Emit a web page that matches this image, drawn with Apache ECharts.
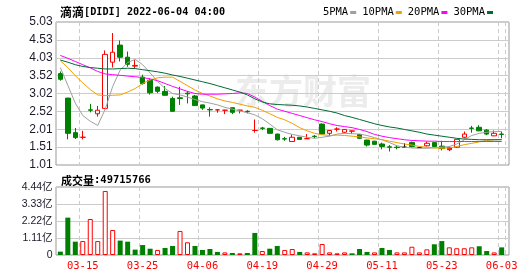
<!DOCTYPE html>
<html><head><meta charset="utf-8">
<script src="https://cdn.jsdelivr.net/npm/echarts@6/dist/echarts.min.js"></script>
<style>html,body{margin:0;padding:0;background:#fff}#c{width:530px;height:276px}</style>
</head><body><div id="c"></div>
<script>
const dates = ['03-10','03-11','03-14','03-15','03-16','03-17','03-18','03-21','03-22','03-23','03-24','03-25',
'03-28','03-29','03-30','03-31','04-01','04-04','04-05','04-06','04-07','04-08','04-11','04-12','04-13','04-14',
'04-18','04-19','04-20','04-21','04-22','04-25','04-26','04-27','04-28','04-29','05-02','05-03','05-04','05-05',
'05-06','05-09','05-10','05-11','05-12','05-13','05-16','05-17','05-18','05-19','05-20','05-23','05-24','05-25',
'05-26','05-27','05-31','06-01','06-02','06-03'];
const labelDates = ['03-15','03-25','04-06','04-19','04-29','05-11','05-23','06-03'];
const opens  = [3.58,2.89,1.92,1.79,2.56,2.45,2.60,3.90,4.38,4.04,3.79,3.48,3.39,3.20,3.08,2.88,2.90,3.03,2.95,2.70,
2.57,2.56,2.55,2.62,2.55,2.52,1.98,2.05,2.04,1.88,1.75,1.67,1.79,1.75,1.82,2.16,1.90,2.02,1.93,1.96,
1.87,1.71,1.68,1.60,1.52,1.51,1.51,1.64,1.50,1.55,1.64,1.54,1.50,1.51,1.79,2.05,2.07,1.99,1.83,1.88];
const closes = [3.42,1.90,1.78,1.79,2.55,2.55,4.12,4.18,4.04,3.84,3.81,3.30,3.04,3.08,2.97,2.52,2.88,3.01,2.68,2.61,
2.56,2.56,2.55,2.49,2.55,2.51,1.98,2.04,1.90,1.72,1.74,1.79,1.73,1.75,1.81,1.88,1.98,2.02,2.01,1.97,
1.76,1.57,1.59,1.53,1.51,1.50,1.51,1.53,1.50,1.62,1.53,1.47,1.44,1.73,1.88,2.04,1.97,1.88,1.90,1.87];
const lows   = [3.38,1.73,1.74,1.73,2.49,2.37,2.58,3.75,3.92,3.77,3.73,3.27,2.99,3.03,2.96,2.51,2.70,2.74,2.67,2.56,
2.37,2.48,2.44,2.44,2.46,2.46,1.92,1.99,1.89,1.70,1.69,1.66,1.72,1.75,1.76,1.87,1.82,1.95,1.90,1.88,
1.75,1.53,1.58,1.45,1.39,1.45,1.50,1.50,1.49,1.53,1.52,1.42,1.40,1.49,1.76,1.92,1.96,1.85,1.82,1.76];
const highs  = [3.64,2.90,2.05,1.97,2.73,2.67,4.23,4.72,4.51,4.20,3.96,3.55,3.45,3.22,3.23,2.93,3.21,3.09,2.98,2.71,
2.63,2.57,2.56,2.63,2.56,2.55,2.29,2.08,2.05,1.89,1.80,1.87,1.80,1.88,1.85,2.18,1.99,2.07,2.02,1.98,
1.88,1.72,1.69,1.64,1.57,1.57,1.62,1.67,1.51,1.67,1.65,1.69,1.53,1.73,1.95,2.11,2.13,2.02,1.98,1.95];
// candle tone: 1 = red, -1 = green, 0 = black
const candleTone = [-1,-1,-1,1,-1,1,1,1,-1,-1,1,-1,-1,-1,-1,-1,-1,-1,-1,-1,
-1,1,1,-1,1,-1,1,-1,-1,-1,-1,1,-1,1,-1,-1,1,1,1,1,
-1,-1,-1,-1,-1,-1,0,-1,0,1,-1,-1,1,1,1,-1,-1,-1,1,-1];
const volumes = [22e6,244e6,87e6,91e6,235e6,91e6,418e6,163e6,94e6,87e6,35e6,65e6,41e6,33e6,46e6,59e6,157e6,83e6,59e6,33e6,
39e6,20e6,17e6,13e6,11e6,13e6,144e6,26e6,41e6,59e6,33e6,39e6,20e6,17e6,11e6,72e6,17e6,11e6,17e6,11e6,
39e6,20e6,17e6,46e6,33e6,17e6,17e6,54e6,17e6,37e6,70e6,91e6,50e6,44e6,44e6,50e6,57e6,26e6,17e6,49715766];
const volumeUp = [0,0,0,1,1,1,1,1,0,0,0,0,0,1,0,0,1,1,0,0,
0,0,1,0,1,0,0,1,0,0,1,1,0,1,1,1,1,1,1,0,
0,0,1,0,0,1,1,1,1,1,0,0,1,1,1,1,0,0,1,0];
const ma5  = [3.75,3.25,2.75,2.40,2.24,2.12,2.58,3.22,3.68,3.89,3.98,3.83,3.60,3.36,3.16,3.02,2.98,2.92,2.85,2.79,
2.75,2.70,2.63,2.58,2.53,2.48,2.42,2.31,2.16,2.00,1.93,1.87,1.83,1.79,1.76,1.79,1.82,1.88,1.90,1.89,
1.88,1.84,1.78,1.72,1.64,1.55,1.51,1.49,1.48,1.48,1.49,1.51,1.53,1.60,1.72,1.84,1.90,1.93,1.95,1.95];
const ma10 = [3.94,3.75,3.52,3.32,3.13,2.98,2.96,2.97,2.98,3.06,3.16,3.30,3.40,3.46,3.48,3.48,3.36,3.24,3.12,3.02,
2.95,2.87,2.81,2.77,2.72,2.67,2.63,2.55,2.45,2.35,2.28,2.18,2.06,1.97,1.90,1.86,1.84,1.85,1.84,1.82,
1.80,1.77,1.75,1.72,1.68,1.64,1.60,1.57,1.53,1.51,1.49,1.48,1.49,1.53,1.58,1.62,1.66,1.70,1.72,1.73];
const ma20 = [4.09,4.01,3.92,3.83,3.74,3.64,3.57,3.55,3.53,3.51,3.49,3.47,3.43,3.38,3.30,3.22,3.15,3.08,3.02,3.00,
3.00,3.00,3.01,3.02,3.04,3.02,2.92,2.80,2.68,2.58,2.52,2.46,2.40,2.34,2.28,2.23,2.17,2.12,2.09,2.06,
2.01,1.95,1.87,1.82,1.78,1.75,1.72,1.70,1.69,1.68,1.68,1.67,1.67,1.67,1.67,1.67,1.67,1.67,1.67,1.67];
const ma30 = [3.96,3.90,3.83,3.78,3.75,3.73,3.71,3.71,3.72,3.73,3.72,3.69,3.66,3.63,3.59,3.54,3.50,3.45,3.40,3.35,
3.30,3.24,3.18,3.12,3.06,2.98,2.87,2.78,2.73,2.71,2.70,2.69,2.67,2.64,2.60,2.56,2.52,2.47,2.40,2.35,
2.29,2.23,2.17,2.12,2.08,2.05,2.01,1.97,1.93,1.88,1.85,1.82,1.79,1.76,1.74,1.73,1.72,1.72,1.72,1.72];
const priceTicks = ['1.01','1.51','2.01','2.52','3.02','3.52','4.03','4.53','5.03'];
const volumeTicks = ['0','1.11亿','2.22亿','3.33亿','4.44亿'];
const priceMin = 1.01, priceMax = 5.03;
const volMax = 444000000;

const RED = '#ff0000', GREEN = '#008000', BLACK = '#000000';
const priceStep = (priceMax - priceMin) / (priceTicks.length - 1);
const volStep = volMax / (volumeTicks.length - 1);
const isLabel = (i) => labelDates.indexOf(dates[i]) >= 0;

const candleData = dates.map((d, i) => {
  const c = candleTone[i] > 0 ? RED : candleTone[i] < 0 ? GREEN : BLACK;
  const fill = closes[i] > opens[i] ? '#ffffff' : c;
  return {value: [opens[i], closes[i], lows[i], highs[i]],
    itemStyle: {color: fill, color0: fill, borderColor: c, borderColor0: c, borderColorDoji: c, borderWidth: 1}};
});
const volData = volumes.map((v, i) => ({value: v,
  itemStyle: volumeUp[i] ? {color: '#ffffff', borderColor: RED, borderWidth: 1} : {color: GREEN, borderColor: GREEN, borderWidth: 0}}));

const mono = 'DejaVu Sans Mono';
const cjk = 'Noto Sans CJK SC';
const L = 56, W = 453, DL = 56.6, DW = 448.8;

const chart = echarts.init(document.getElementById('c'), null, {renderer: 'canvas'});
chart.setOption({
  animation: false,
  backgroundColor: '#fff',
  title: [
    {text: '{a|滴滴}{b|[DIDI] 2022-06-04 04:00}', left: 55, top: 1,
      textStyle: {rich: {a: {fontFamily: cjk, fontSize: 12, color: '#000'}, b: {fontFamily: mono, fontSize: 10.2, color: '#000'}}}},
    {text: '{a|成交量}{b|:' + volumes[volumes.length - 1] + '}', left: 56, top: 170,
      textStyle: {rich: {a: {fontFamily: cjk, fontSize: 11, color: '#000'}, b: {fontFamily: mono, fontSize: 10.5, color: '#000'}}}}
  ],
  legend: {data: ['5PMA', '10PMA', '20PMA', '30PMA'], right: 32, top: 2, align: 'right', icon: 'rect',
    itemWidth: 6, itemHeight: 3, itemGap: 6,
    textStyle: {fontFamily: mono, fontSize: 10.5, color: '#000', padding: [0, -3, 0, 0]}},
  graphic: [{type: 'text', left: 235, top: 74, z: -10, silent: true,
    style: {text: '东方财富', font: 'bold 34px "Noto Sans CJK SC"', fill: '#ececec'}}],
  grid: [
    {left: L, top: 22, width: W, height: 143, show: true, borderColor: '#999', borderWidth: 1},
    {left: DL, top: 22, width: DW, height: 143},
    {left: L, top: 187, width: W, height: 68, show: true, borderColor: '#999', borderWidth: 1},
    {left: DL, top: 187, width: DW, height: 68}
  ],
  xAxis: [
    {gridIndex: 0, type: 'value', min: 0, max: 1, show: false},
    {gridIndex: 1, type: 'category', data: dates, boundaryGap: true, axisLine: {show: false}, axisTick: {show: false},
      axisLabel: {show: false}, splitLine: {show: true, interval: (i) => isLabel(i), lineStyle: {color: '#cccccc', type: [4, 3]}}},
    {gridIndex: 2, type: 'value', min: 0, max: 1, show: false},
    {gridIndex: 3, type: 'category', data: dates, boundaryGap: true, axisLine: {show: false}, axisTick: {show: false},
      axisLabel: {show: true, interval: (i) => isLabel(i), color: RED, fontFamily: mono, fontSize: 10.5, margin: 6},
      splitLine: {show: true, interval: (i) => isLabel(i), lineStyle: {color: '#cccccc', type: [4, 3]}}}
  ],
  yAxis: [
    {gridIndex: 0, type: 'value', min: priceMin, max: priceMax, interval: priceStep, axisLabel: {show: false},
      axisLine: {show: false}, axisTick: {show: false}, splitLine: {show: true, lineStyle: {color: '#cccccc'}}},
    {gridIndex: 1, type: 'value', min: priceMin, max: priceMax, interval: priceStep,
      axisLine: {show: false}, axisTick: {show: false}, splitLine: {show: false},
      axisLabel: {margin: 4, color: '#1a1a2a', fontFamily: 'Liberation Sans', fontSize: 12,
        formatter: (v) => priceTicks[Math.round((v - priceMin) / priceStep)]}},
    {gridIndex: 2, type: 'value', min: 0, max: volMax, interval: volStep, axisLabel: {show: false},
      axisLine: {show: false}, axisTick: {show: false}, splitLine: {show: true, lineStyle: {color: '#cccccc'}}},
    {gridIndex: 3, type: 'value', min: 0, max: volMax, interval: volStep,
      axisLine: {show: false}, axisTick: {show: false}, splitLine: {show: false},
      axisLabel: {margin: 4, color: '#1a1a2a', fontFamily: 'Liberation Sans, Noto Sans CJK SC', fontSize: 10.5,
        formatter: (v) => volumeTicks[Math.round(v / volStep)]}}
  ],
  series: [
    {name: '5PMA', type: 'line', xAxisIndex: 1, yAxisIndex: 1, data: ma5, symbol: 'none', lineStyle: {width: 1, color: '#a0a0a0'}, itemStyle: {color: '#a0a0a0'}},
    {name: '10PMA', type: 'line', xAxisIndex: 1, yAxisIndex: 1, data: ma10, symbol: 'none', lineStyle: {width: 1, color: '#f0a000'}, itemStyle: {color: '#f0a000'}},
    {name: '20PMA', type: 'line', xAxisIndex: 1, yAxisIndex: 1, data: ma20, symbol: 'none', lineStyle: {width: 1, color: '#ff00ff'}, itemStyle: {color: '#ff00ff'}},
    {name: '30PMA', type: 'line', xAxisIndex: 1, yAxisIndex: 1, data: ma30, symbol: 'none', lineStyle: {width: 1, color: '#006b33'}, itemStyle: {color: '#006b33'}},
    {type: 'candlestick', xAxisIndex: 1, yAxisIndex: 1, data: candleData, barWidth: 5},
    {type: 'bar', xAxisIndex: 3, yAxisIndex: 3, data: volData, barWidth: 5}
  ]
});
</script></body></html>
